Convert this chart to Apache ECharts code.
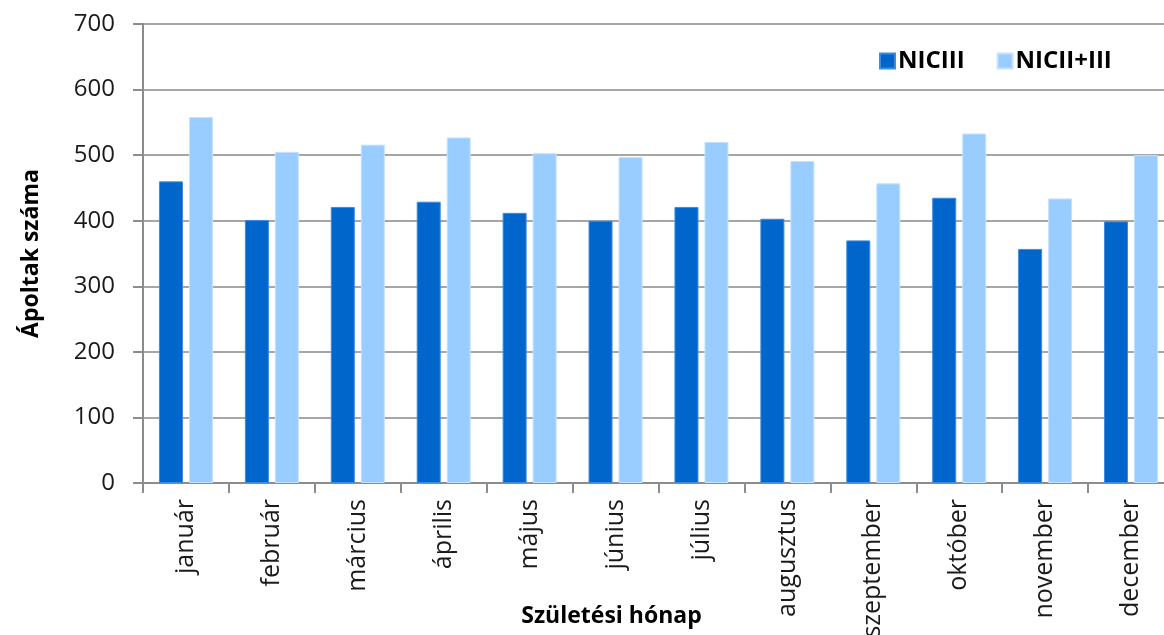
<!DOCTYPE html>
<html>
<head>
<meta charset="utf-8">
<script src="https://cdn.jsdelivr.net/npm/echarts@6/dist/echarts.min.js"></script>
<style>html,body{margin:0;padding:0;background:#fff}#c{width:1164px;height:635px}</style>
</head>
<body>
<div id="c"></div>
<script>
const categories = ['január','február','március','április','május','június','július','augusztus','szeptember','október','november','december'];
const nicIII = [460, 401, 421, 429, 412, 400, 421, 403, 370, 435, 357, 399];
const nicIIplusIII = [558, 505, 516, 527, 503, 497, 520, 491, 457, 533, 434, 500];
const yTicks = [0, 100, 200, 300, 400, 500, 600, 700];

const chart = echarts.init(document.getElementById('c'));
const FONT = '"Open Sans", "Noto Sans", sans-serif';
chart.setOption({
  animation: false,
  textStyle: { fontFamily: FONT },
  grid: { left: 143, top: 24, bottom: 152, width: 1031, containLabel: false, outerBoundsMode: 'none' },
  legend: {
    left: 874, top: 44,
    itemWidth: 15, itemHeight: 15, itemGap: 32,
    icon: 'rect',
    textStyle: { fontFamily: FONT, fontSize: 24, fontWeight: 'bold', color: '#000', padding: [0,0,0,-2] },
    data: ['NICIII', 'NICII+III']
  },
  xAxis: {
    type: 'category',
    data: categories,
    name: 'Születési hónap',
    nameLocation: 'middle',
    nameGap: 122,
    nameMoveOverlap: false,
    nameTextStyle: { fontFamily: FONT, fontSize: 23, fontWeight: 'bold', color: '#000', padding: [0, 94, 0, 0] },
    axisLine: { lineStyle: { color: '#8c8c8c', width: 2 } },
    axisTick: { show: true, length: 10, lineStyle: { color: '#8c8c8c', width: 2 } },
    axisLabel: { rotate: 90, interval: 0, margin: 16, fontSize: 25, color: '#1a1a1a', fontFamily: FONT }
  },
  yAxis: {
    type: 'value',
    min: yTicks[0], max: yTicks[yTicks.length - 1], interval: 100,
    name: 'Ápoltak száma',
    nameLocation: 'middle',
    nameGap: 100,
    nameMoveOverlap: false,
    nameTextStyle: { fontFamily: FONT, fontSize: 23, fontWeight: 'bold', color: '#000' },
    axisLine: { show: true, lineStyle: { color: '#8c8c8c', width: 2 } },
    axisTick: { show: true, length: 10, lineStyle: { color: '#8c8c8c', width: 2 } },
    axisLabel: { margin: 28, fontSize: 24, color: '#1a1a1a', fontFamily: FONT },
    splitLine: { lineStyle: { color: '#a6a6a6', width: 2 } }
  },
  series: [
    { name: 'NICIII', type: 'bar', data: nicIII, barWidth: 24, barGap: '25%', barCategoryGap: '36%',
      itemStyle: { color: '#0066CC', borderColor: '#3d8be0', borderWidth: 1 } },
    { name: 'NICII+III', type: 'bar', data: nicIIplusIII, barWidth: 24,
      itemStyle: { color: '#99CCFF', borderColor: '#c4e2ff', borderWidth: 1 } }
  ]
});
</script>
</body>
</html>
